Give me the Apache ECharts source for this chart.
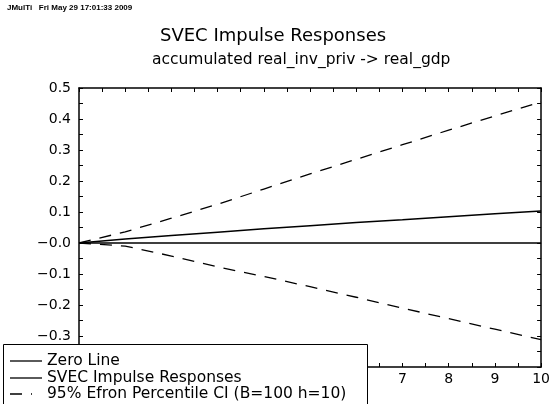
<!DOCTYPE html>
<html>
<head>
<meta charset="utf-8">
<script src="https://cdn.jsdelivr.net/npm/echarts@6/dist/echarts.min.js"></script>
<style>
  html, body { margin: 0; padding: 0; background: #fff; }
  #chart { width: 553px; height: 404px; }
</style>
</head>
<body>
<div id="chart"></div>
<script>
// horizon (h = 0..10)
const horizons = [0, 1, 2, 3, 4, 5, 6, 7, 8, 9, 10];
const zeroLine = [0, 0, 0, 0, 0, 0, 0, 0, 0, 0, 0];
const svecResponse = [0, 0.013, 0.024, 0.035, 0.046, 0.056, 0.066, 0.075, 0.085, 0.094, 0.103];
const ciUpper = [0, 0.036, 0.08, 0.125, 0.174, 0.223, 0.27, 0.317, 0.364, 0.41, 0.455];
const ciLower = [0, -0.01, -0.042, -0.077, -0.108, -0.141, -0.175, -0.21, -0.244, -0.278, -0.312];

const legendNames = ['Zero Line', 'SVEC Impulse Responses', '95% Efron Percentile CI (B=100 h=10)'];

const FONT = '"DejaVu Sans", sans-serif';
const DASH = [12, 9];

const pairs = (ys) => horizons.map((h, i) => [h, ys[i]]);

const fmtY = (v) => {
  const s = Math.abs(v).toFixed(1);
  return v < 0 || Math.abs(v) < 1e-9 ? '\u2212' + s : s;
};

const baseX = {
  type: 'value',
  min: 0,
  max: 10,
  interval: 1,
  axisLine: { show: true, onZero: false, lineStyle: { color: '#000', width: 1.5 } },
  axisTick: { show: true, inside: true, length: 4, lineStyle: { color: '#000' } },
  minorTick: { show: true, splitNumber: 2, length: 4, lineStyle: { color: '#000' } },
  splitLine: { show: false },
};

const baseY = {
  type: 'value',
  min: -0.4,
  max: 0.5,
  interval: 0.1,
  axisLine: { show: true, onZero: false, lineStyle: { color: '#000', width: 1.5 } },
  axisTick: { show: true, inside: true, length: 4, lineStyle: { color: '#000' } },
  minorTick: { show: true, splitNumber: 2, length: 4, lineStyle: { color: '#000' } },
  splitLine: { show: false },
};

// legend box drawn by hand (JMulTi style, sits over the lower-left corner)
const legendRows = [361, 378, 394];
const legendGraphic = [
  {
    type: 'rect',
    z: 100,
    shape: { x: 3.5, y: 344.5, width: 364, height: 80 },
    style: { fill: '#fff', stroke: '#000', lineWidth: 1 },
  },
];
legendNames.forEach((name, i) => {
  legendGraphic.push({
    type: 'line',
    z: 101,
    shape: { x1: 10, y1: legendRows[i], x2: i === 2 ? 32 : 42, y2: legendRows[i] },
    style: { stroke: '#000', lineWidth: 1.3, lineDash: i === 2 ? DASH : null },
  });
  legendGraphic.push({
    type: 'text',
    z: 101,
    x: 47,
    y: legendRows[i],
    style: { text: name, fill: '#000', font: '15.5px ' + FONT, verticalAlign: 'middle' },
  });
});

const chart = echarts.init(document.getElementById('chart'), null, { renderer: 'canvas' });

chart.setOption({
  animation: false,
  backgroundColor: '#fff',
  title: [
    {
      text: 'JMulTi   Fri May 29 17:01:33 2009',
      left: 7,
      top: 4,
      padding: 0,
      textStyle: { fontFamily: '"Liberation Sans", sans-serif', fontSize: 8, fontWeight: 'bold', color: '#000' },
    },
    {
      text: 'SVEC Impulse Responses',
      left: 160,
      top: 27,
      padding: 0,
      textStyle: { fontFamily: FONT, fontSize: 18, fontWeight: 'normal', color: '#000' },
    },
    {
      text: 'accumulated real_inv_priv -> real_gdp',
      left: 152,
      top: 52,
      padding: 0,
      textStyle: { fontFamily: FONT, fontSize: 15.5, fontWeight: 'normal', color: '#000' },
    },
  ],
  grid: { left: 79, right: 10, top: 88, bottom: 37, containLabel: false },
  xAxis: [
    Object.assign({}, baseX, {
      position: 'bottom',
      axisLabel: { color: '#000', fontFamily: FONT, fontSize: 14, margin: 5 },
    }),
    Object.assign({}, baseX, { position: 'top', axisLabel: { show: false } }),
  ],
  yAxis: [
    Object.assign({}, baseY, {
      position: 'left',
      axisLabel: { color: '#000', fontFamily: FONT, fontSize: 14, margin: 8, formatter: fmtY },
    }),
    Object.assign({}, baseY, { position: 'right', axisLabel: { show: false } }),
  ],
  graphic: legendGraphic,
  series: [
    {
      name: legendNames[0],
      type: 'line',
      data: pairs(zeroLine),
      symbol: 'none',
      lineStyle: { color: '#000', width: 1.6 },
    },
    {
      name: legendNames[1],
      type: 'line',
      data: pairs(svecResponse),
      symbol: 'none',
      lineStyle: { color: '#000', width: 1.5 },
    },
    {
      name: legendNames[2],
      type: 'line',
      data: pairs(ciUpper),
      symbol: 'none',
      lineStyle: { color: '#000', width: 1.3, type: DASH },
    },
    {
      name: legendNames[2],
      type: 'line',
      data: pairs(ciLower),
      symbol: 'none',
      lineStyle: { color: '#000', width: 1.3, type: DASH },
    },
  ],
});
</script>
</body>
</html>
